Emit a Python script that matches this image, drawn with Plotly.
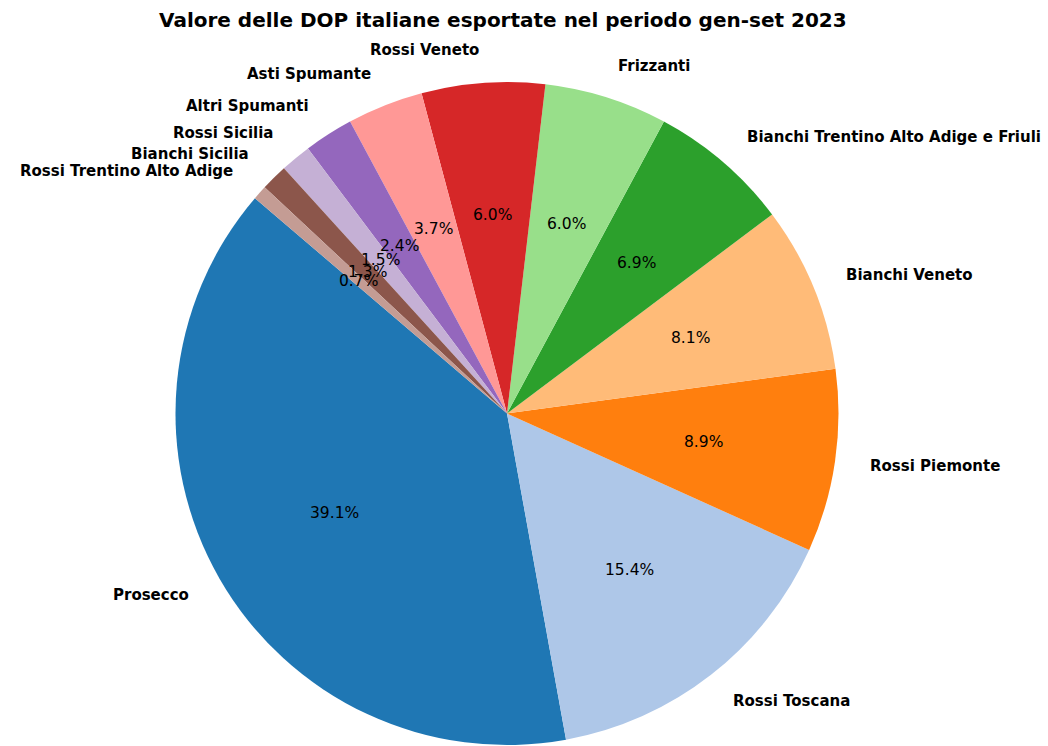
import math
import plotly.graph_objects as go

categories = ["Prosecco", "Rossi Toscana", "Rossi Piemonte", "Bianchi Veneto",
              "Bianchi Trentino Alto Adige e Friuli", "Frizzanti", "Rossi Veneto",
              "Asti Spumante", "Altri Spumanti", "Rossi Sicilia", "Bianchi Sicilia",
              "Rossi Trentino Alto Adige"]
values = [39.1, 15.4, 8.9, 8.1, 6.9, 6.0, 6.0, 3.7, 2.4, 1.5, 1.3, 0.7]
colors = ["#1f77b4", "#aec7e8", "#ff7f0e", "#ffbb78", "#2ca02c", "#98df8a",
          "#d62728", "#ff9896", "#9467bd", "#c5b0d5", "#8c564b", "#c49c94"]
title = "Valore delle DOP italiane esportate nel periodo gen-set 2023"

W, H = 1048, 746
CX, CY, R = 507.0, 413.5, 331.5
START = 139.5  # degrees, counterclockwise from 3 o'clock

total = sum(values)
# plotly (counterclockwise) places the END of the first slice at the rotation angle
first_end = START + 360 * values[0] / total
rotation = 90 - first_end
while rotation < -360:
    rotation += 360

fig = go.Figure(go.Pie(
    labels=categories, values=values, sort=False, direction="counterclockwise",
    rotation=rotation, textinfo="none", hoverinfo="label+percent",
    marker=dict(colors=colors, line=dict(width=0)),
    domain=dict(x=[(CX - R) / W, (CX + R) / W], y=[(H - CY - R) / H, (H - CY + R) / H]),
    showlegend=False,
))

ann = []
cum = 0.0
font = "DejaVu Sans"
for lab, v in zip(categories, values):
    a0 = START + 360 * cum / total
    cum += v
    a1 = START + 360 * cum / total
    mid = math.radians((a0 + a1) / 2)
    cx, cy = math.cos(mid), math.sin(mid)
    lx, ly = CX + 1.1 * R * cx, CY - 1.1 * R * cy
    ann.append(dict(x=lx / W, y=1 - ly / H, xref="paper", yref="paper", text=lab,
                    showarrow=False, xanchor="left" if cx > 0 else "right", yanchor="middle",
                    font=dict(family=font, size=15, color="black", weight="bold")))
    px, py = CX + 0.6 * R * cx, CY - 0.6 * R * cy
    ann.append(dict(x=px / W, y=1 - py / H, xref="paper", yref="paper",
                    text=f"{100 * v / total:.1f}%",
                    showarrow=False, xanchor="center", yanchor="middle",
                    font=dict(family=font, size=15.5, color="black")))

ann.append(dict(x=503 / W, y=1 - 20 / H, xref="paper", yref="paper", text=title,
                showarrow=False, xanchor="center", yanchor="middle",
                font=dict(family=font, size=20, color="black", weight="bold")))

fig.update_layout(width=W, height=H, margin=dict(l=0, r=0, t=0, b=0),
                  paper_bgcolor="white", plot_bgcolor="white", annotations=ann)
fig.write_html("out.html", config={"displayModeBar": False},
               post_script="document.body.style.margin='0';document.body.style.overflow='hidden';")
